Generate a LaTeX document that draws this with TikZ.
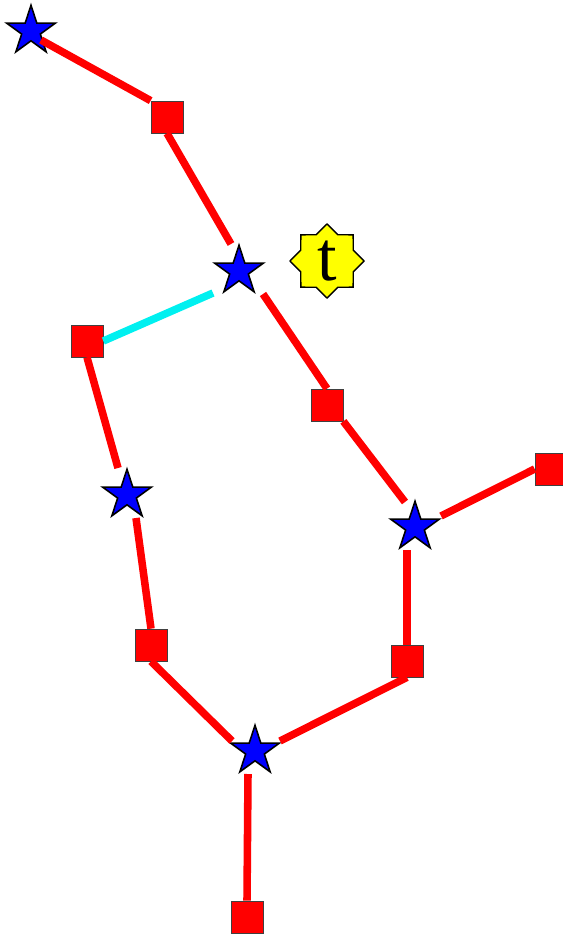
\documentclass[tikz,border=0pt]{standalone}
\usepackage{fontspec}
\setmainfont{Liberation Serif}
\usetikzlibrary{shapes.geometric}
\definecolor{edgered}{RGB}{255,0,0}
\definecolor{chord}{RGB}{0,240,240}
\definecolor{nodeblue}{RGB}{0,0,255}
\definecolor{tyellow}{RGB}{255,255,0}
\begin{document}
\begin{tikzpicture}[x=0.02cm,y=-0.02cm,
  sq/.style={draw=black!75,fill=red,minimum size=0.64cm,inner sep=0pt},
  st/.style={star,star points=5,star point ratio=2.618,draw=black,line width=0.9pt,
    fill=nodeblue,minimum size=1.03cm,inner sep=0pt},
  edge/.style={line width=4.3pt,edgered}]
 \useasboundingbox (0,0) rectangle (563,936);
 % stars
 \node[st] (s1) at (31,31) {};
 \node[st] (s2) at (239,271) {};
 \node[st] (s3) at (127,495) {};
 \node[st] (s4) at (415,527) {};
 \node[st] (s5) at (255,751) {};
 % squares
 \node[sq] (q1) at (167,117) {};
 \node[sq] (q2) at (87,341) {};
 \node[sq] (q3) at (327,405) {};
 \node[sq] (q4) at (551,469) {};
 \node[sq] (q5) at (151,645) {};
 \node[sq] (q6) at (407,661) {};
 \node[sq] (q7) at (247,917) {};
 % target
 \node[star,star points=8,star point ratio=1.3,draw=black,line width=0.8pt,fill=tyellow,
   minimum size=1.3cm,inner sep=0pt,font=\fontsize{40}{40}\selectfont] (t) at (327,261) {t};
 % edge ends at the stars
 \coordinate (s1e) at (41,40);
 \coordinate (s2n) at (231,244);
 \coordinate (s2w) at (213,293);
 \coordinate (s2s) at (263,294);
 \coordinate (s3n) at (118,468);
 \coordinate (s3s) at (136,518);
 \coordinate (s4n) at (405,502);
 \coordinate (s4e) at (441,516);
 \coordinate (s4s) at (407,550);
 \coordinate (s5w) at (232,741);
 \coordinate (s5e) at (280,741);
 \coordinate (s5s) at (248,774);
 % edges
 \foreach \a/\b in {s1e/q1.north west,s2n/q1.south,s2s/q3.north,s4n/q3.south east,
   s4e/q4.west,s4s/q6.north,s5e/q6.south,s5s/q7.north,s5w/q5.south,
   s3n/q2.south,s3s/q5.north}
   \draw[edge] (\a) -- (\b);
 \draw[edge,chord] (s2w) -- (q2.east);
\end{tikzpicture}
\end{document}
